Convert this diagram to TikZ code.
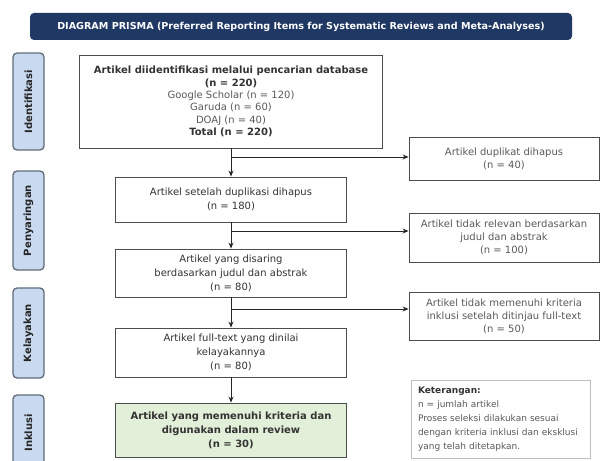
\documentclass[tikz,border=0pt]{standalone}
\usepackage{fontspec}
\setmainfont{DejaVu Sans}
\usetikzlibrary{arrows.meta}
\definecolor{navy}{HTML}{1F3864}
\definecolor{stagefill}{HTML}{C9DAF0}
\definecolor{stageline}{HTML}{5F6B7A}
\definecolor{okfill}{HTML}{E2EFD9}
\definecolor{boxline}{HTML}{4D4D4D}
\definecolor{txtdark}{HTML}{333333}
\definecolor{txtlight}{HTML}{5A5A5A}

\begin{document}
\begin{tikzpicture}[x=1pt, y=-1pt,
  banner/.style={fill=navy, rounded corners=4pt, minimum width=542pt, minimum height=27pt,
    text=white, font=\fontsize{9.6}{11}\selectfont\bfseries},
  stage/.style={draw=stageline, fill=stagefill, rounded corners=4pt, line width=1.3pt,
    rotate=90, minimum height=31pt, inner sep=0pt, text=black!85,
    font=\fontsize{10}{12}\selectfont\bfseries},
  mainbox/.style={draw=boxline, fill=white, line width=0.9pt, minimum width=231pt,
    align=center, text=txtdark, font=\fontsize{10}{14}\selectfont},
  sidebox/.style={draw=boxline, fill=white, line width=0.9pt, minimum width=190pt,
    align=center, text=txtlight, font=\fontsize{10}{13}\selectfont},
  notebox/.style={draw=black!25, fill=white, line width=0.8pt, minimum width=179pt,
    minimum height=78pt, text width=165pt, align=left, text=txtlight,
    font=\fontsize{9}{14}\selectfont},
  arr/.style={-{Stealth[length=6pt,width=5pt]}, line width=1pt, black!85}]
\useasboundingbox (0,0) rectangle (601,460);

\node[banner] (title) at (301,26.5)
  {DIAGRAM PRISMA (Preferred Reporting Items for Systematic Reviews and Meta-Analyses)};

\foreach \y/\h/\t in {101.5/97/Identifikasi, 220.5/99/Penyaringan, 333/90/Kelayakan, 433/76/Inklusi}
  \node[stage, minimum width=\h pt] (st-\t) at (28.5,\y) {\t};

\node[mainbox, minimum width=303pt, minimum height=93pt, font=\fontsize{10}{12.3}\selectfont] (ident) at (231,101.5)
  {\textbf{Artikel diidentifikasi melalui pencarian database}\\
   \textbf{(n = 220)}\\
   {\color{txtlight}Google Scholar (n = 120)}\\
   {\color{txtlight}Garuda (n = 60)}\\
   {\color{txtlight}DOAJ (n = 40)}\\
   \textbf{Total (n = 220)}};
\node[mainbox, minimum height=45pt] (dedup) at (231,199.5)
  {Artikel setelah duplikasi dihapus\\(n = 180)};
\node[mainbox, minimum height=48pt] (screen) at (231,273)
  {Artikel yang disaring\\berdasarkan judul dan abstrak\\(n = 80)};
\node[mainbox, minimum height=49pt] (elig) at (231,352.5)
  {Artikel full-text yang dinilai\\kelayakannya\\(n = 80)};
\node[mainbox, fill=okfill, minimum height=54pt, font=\fontsize{10}{14}\selectfont\bfseries] (incl) at (231,430)
  {Artikel yang memenuhi kriteria dan\\digunakan dalam review\\(n = 30)};

\node[sidebox, minimum height=43pt] (dup) at (504,158.5)
  {Artikel duplikat dihapus\\(n = 40)};
\node[sidebox, minimum height=49pt] (irr) at (504,237.5)
  {Artikel tidak relevan berdasarkan\\judul dan abstrak\\(n = 100)};
\node[sidebox, minimum height=48pt] (excl) at (504,316)
  {Artikel tidak memenuhi kriteria\\inklusi setelah ditinjau full-text\\(n = 50)};

\node[notebox] (note) at (500.5,419)
  {\textbf{\color{txtdark}Keterangan:}\\
   n = jumlah artikel\\
   Proses seleksi dilakukan sesuai\\
   dengan kriteria inklusi dan eksklusi\\
   yang telah ditetapkan.};

\coordinate (b1) at (231,157);
\coordinate (b2) at (231,231);
\coordinate (b3) at (231,309);

\draw[arr] (ident) -- (dedup);
\draw[arr] (dedup) -- (screen);
\draw[arr] (screen) -- (elig);
\draw[arr] (elig) -- (incl);
\draw[arr] (b1) -- (b1 -| dup.west);
\draw[arr] (b2) -- (b2 -| irr.west);
\draw[arr] (b3) -- (b3 -| excl.west);
\end{tikzpicture}
\end{document}
